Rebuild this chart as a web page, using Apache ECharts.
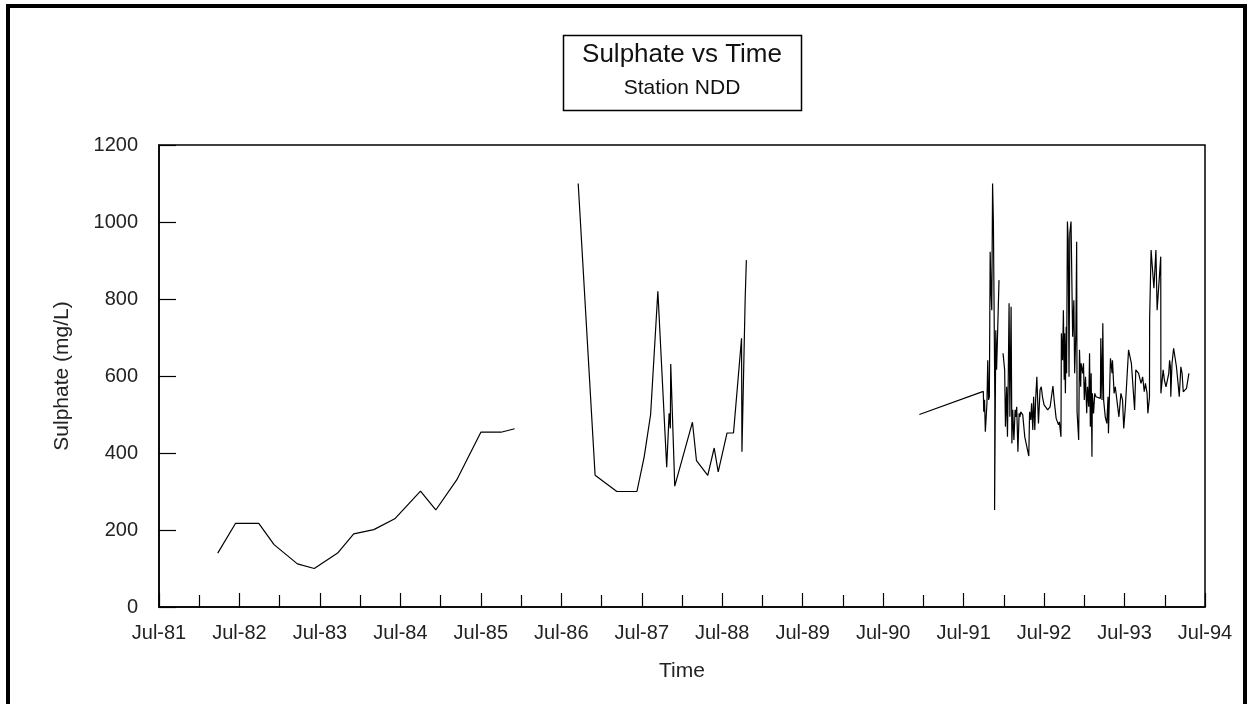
<!DOCTYPE html>
<html>
<head>
<meta charset="utf-8">
<script src="https://cdn.jsdelivr.net/npm/echarts@6/dist/echarts.min.js"></script>
<style>
html,body{margin:0;padding:0;background:#fff;}
#chart{width:1251px;height:704px;}
</style>
</head>
<body>
<div id="chart"></div>
<script>
// Sampling dates (decimal years) and sulphate (mg/L)
const seg1Dates = [1982.23,1982.45,1982.74,1982.93,1983.22,1983.43,1983.72,1983.92,1984.17,1984.43,1984.75,1984.94,1985.20,1985.50,1985.75,1985.92];
const seg1Values = [140,217,217,162,112,100,140,190,201,229,301,252,330,454,454,463];

const seg2Dates = [1986.71,1986.92,1987.19,1987.44,1987.53,1987.61,1987.70,1987.81,1987.84,1987.855,1987.86,1987.91,1988.13,1988.18,1988.32,1988.40,1988.45,1988.56,1988.64,1988.74,1988.745,1988.785,1988.80];
const seg2Values = [1100,342,300,300,390,500,820,363,503,464,631,314,480,380,342,413,351,452,452,698,403,800,901];

const seg3Dates = [1990.95,1991.745,1991.75,1991.76,1991.77,1991.79,1991.80,1991.81,1991.82,1991.83,1991.84,1991.85,1991.86,1991.87,1991.888,1991.888,1991.885,1991.90,1991.91,1991.94];
const seg3Values = [500,560,507,538,455,529,641,538,546,923,823,771,1100,1001,1001,540,252,719,616,849];

const seg4Dates = [1991.99,1992.01,1992.02,1992.035,1992.045,1992.055,1992.065,1992.075,1992.09,1992.10,1992.11,1992.125,1992.14,1992.15,1992.16,1992.175,1992.19,1992.20,1992.21,1992.235,1992.26,1992.31,1992.32,1992.335,1992.345,1992.36,1992.37,1992.385,1992.395,1992.41,1992.43,1992.45,1992.465,1992.48,1992.50,1992.545,1992.575,1992.61,1992.625,1992.65,1992.68,1992.69,1992.71,1992.715,1992.73,1992.74,1992.75,1992.755,1992.765,1992.775,1992.78,1992.785,1992.79,1992.80,1992.81,1992.82,1992.835,1992.855,1992.87,1992.88,1992.895,1992.905,1992.91,1992.93,1992.94,1992.955,1992.96,1992.98,1992.99,1993.00,1993.015,1993.03,1993.04,1993.055,1993.065,1993.075,1993.085,1993.095,1993.10,1993.115,1993.13,1993.145,1993.20,1993.205,1993.22,1993.23,1993.24,1993.26,1993.28,1993.295,1993.30,1993.325,1993.345,1993.35,1993.37,1993.385,1993.405,1993.43,1993.455,1993.475,1993.49,1993.51,1993.55,1993.57,1993.585,1993.605,1993.625,1993.64,1993.675,1993.685,1993.695,1993.705,1993.725,1993.745,1993.76,1993.78,1993.79,1993.81,1993.812,1993.83,1993.865,1993.89,1993.905,1993.95,1993.952,1993.96,1993.98,1993.995,1994.015,1994.035,1994.05,1994.06,1994.07,1994.075,1994.09,1994.11,1994.13,1994.145,1994.165,1994.18,1994.20,1994.215,1994.23,1994.25,1994.27,1994.30];
const seg4Values = [659,616,468,572,442,598,789,494,780,425,512,434,512,494,520,403,503,494,507,499,442,392,507,486,529,460,546,460,538,598,477,564,572,546,525,512,520,574,538,490,473,481,442,711,641,771,590,711,555,728,607,806,1001,953,598,971,1001,702,797,607,711,949,507,434,668,572,633,607,633,538,598,503,572,520,659,468,607,390,555,503,555,546,542,698,538,737,538,494,477,546,451,646,607,641,555,572,568,494,555,538,464,520,668,668,633,637,512,616,607,598,598,581,598,559,581,555,503,546,750,927,828,927,771,910,555,555,616,590,572,568,607,641,624,546,633,672,672,624,581,546,624,607,559,564,568,607];

const xTickLabels = ['Jul-81','Jul-82','Jul-83','Jul-84','Jul-85','Jul-86','Jul-87','Jul-88','Jul-89','Jul-90','Jul-91','Jul-92','Jul-93','Jul-94'];
const xOrigin = 1981.5; // Jul-81
const titleText = 'Sulphate vs Time';
const subtitleText = 'Station NDD';

function toPairs(dates, values) {
  return dates.map((d, i) => [d - xOrigin, values[i]]);
}

const FONT = '"Liberation Sans", Arial, sans-serif';
const lineSeries = (data) => ({
  type: 'line', data: data, symbol: 'none', showSymbol: false,
  lineStyle: { color: '#000', width: 1.2 }, animation: false, z: 3
});

const chart = echarts.init(document.getElementById('chart'));
chart.setOption({
  backgroundColor: '#fff',
  animation: false,
  grid: { left: 159, top: 145, width: 1046, height: 462, show: true, borderColor: '#000', borderWidth: 1.5, backgroundColor: 'transparent' },
  xAxis: {
    type: 'value', min: 0, max: 13, interval: 1,
    name: 'Time', nameLocation: 'middle', nameGap: 54,
    nameTextStyle: { fontFamily: FONT, fontSize: 21, color: '#222' },
    axisLine: { show: true, onZero: false, lineStyle: { color: '#000', width: 1.5 } },
    axisTick: { show: true, inside: true, length: 14, lineStyle: { color: '#000', width: 1.2 } },
    minorTick: { show: true, splitNumber: 2, length: 12, lineStyle: { color: '#000', width: 1.2 } },
    splitLine: { show: false },
    axisLabel: { margin: 16, fontFamily: FONT, fontSize: 20, color: '#222', formatter: (v) => xTickLabels[Math.round(v)] }
  },
  yAxis: {
    type: 'value', min: 0, max: 1200, interval: 200,
    name: 'Sulphate (mg/L)', nameLocation: 'middle', nameGap: 86, nameRotate: 90,
    nameTextStyle: { fontFamily: FONT, fontSize: 21, color: '#222' },
    axisLine: { show: true, lineStyle: { color: '#000', width: 1.5 } },
    axisTick: { show: true, inside: true, length: 17, lineStyle: { color: '#000', width: 1.2 } },
    splitLine: { show: false },
    axisLabel: { margin: 21, fontFamily: FONT, fontSize: 20, color: '#222', formatter: (v) => String(v) }
  },
  series: [
    lineSeries(toPairs(seg1Dates, seg1Values)),
    lineSeries(toPairs(seg2Dates, seg2Values)),
    lineSeries(toPairs(seg3Dates, seg3Values)),
    lineSeries(toPairs(seg4Dates, seg4Values))
  ],
  graphic: [
    { type: 'rect', shape: { x: 8, y: 6, width: 1237, height: 720 }, style: { fill: 'none', stroke: '#000', lineWidth: 4 }, z: 10, silent: true },
    { type: 'rect', shape: { x: 563.5, y: 35.5, width: 238, height: 75 }, style: { fill: '#fff', stroke: '#000', lineWidth: 1.5 }, z: 10, silent: true },
    { type: 'text', x: 682, y: 55, style: { text: titleText, font: '26px ' + FONT, fill: '#111', textAlign: 'center', textVerticalAlign: 'middle' }, z: 11, silent: true },
    { type: 'text', x: 682, y: 88, style: { text: subtitleText, font: '21px ' + FONT, fill: '#111', textAlign: 'center', textVerticalAlign: 'middle' }, z: 11, silent: true }
  ]
});
</script>
</body>
</html>
